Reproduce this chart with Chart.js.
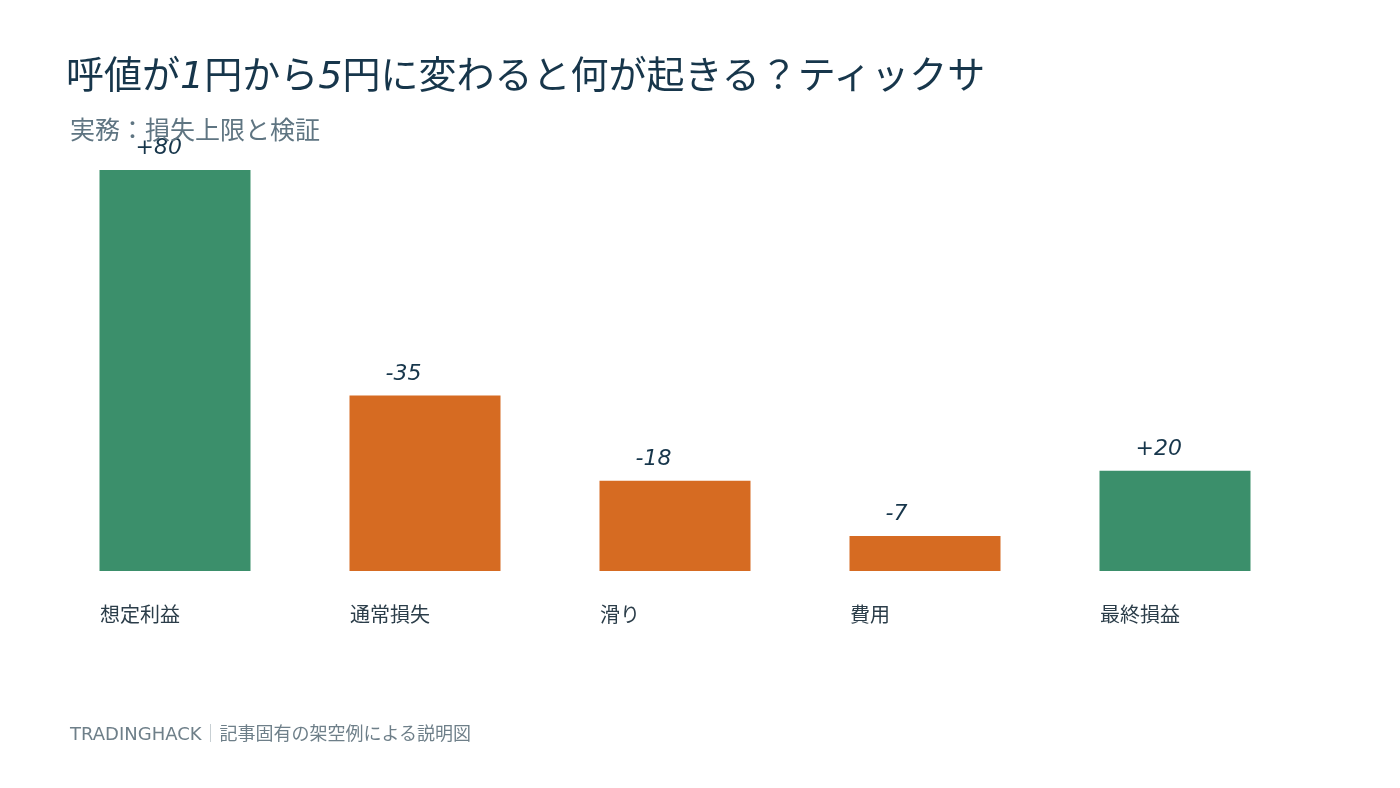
<!DOCTYPE html>
<html lang="ja">
<head>
<meta charset="utf-8">
<script src="https://cdn.jsdelivr.net/npm/chart.js@4.4.1/dist/chart.umd.min.js"></script>
<style>
  html, body { margin: 0; padding: 0; background: #fff; }
  body { width: 1400px; height: 788px; position: relative; overflow: hidden;
         font-family: "DejaVu Sans", "Noto Sans CJK JP", sans-serif; }
  #wrap { position: absolute; left: 0; top: 0; width: 1400px; height: 788px; }
  .title { position: absolute; left: 66px; top: 44px; font-size: 38px; color: #17364b; white-space: nowrap; }
  .title i { font-style: italic; }
  .sub { position: absolute; left: 70px; top: 110px; font-size: 25px; color: #5f7582; white-space: nowrap; }
  .foot { position: absolute; left: 70px; top: 719px; font-size: 18px; color: #6e7f89; white-space: nowrap; }
  .foot span { color: #b9c2c8; }
</style>
</head>
<body>
<div id="wrap"><canvas id="chart" width="1400" height="788"></canvas></div>
<div class="title">呼値が<i>1</i>円から<i>5</i>円に変わると何が起きる？ティックサ</div>
<div class="sub">実務：損失上限と検証</div>
<div class="foot">TRADINGHACK<span>｜</span>記事固有の架空例による説明図</div>
<script>
const categories = ["想定利益", "通常損失", "滑り", "費用", "最終損益"];
const values = [80, -35, -18, -7, 20];
const valueLabels = ["+80", "-35", "-18", "-7", "+20"];

const green = "#3b8f6b";
const orange = "#d66b22";

const valueLabelPlugin = {
  id: "valueLabels",
  afterDatasetsDraw(chart) {
    const ctx = chart.ctx;
    const meta = chart.getDatasetMeta(0);
    ctx.save();
    ctx.font = "italic 22px 'DejaVu Sans', 'Noto Sans CJK JP', sans-serif";
    ctx.fillStyle = "#17364b";
    ctx.textAlign = "left";
    ctx.textBaseline = "alphabetic";
    meta.data.forEach((bar, i) => {
      const left = bar.x - bar.width / 2;
      ctx.fillText(valueLabels[i], left + 36, bar.y - 16);
    });
    ctx.restore();
  }
};

new Chart(document.getElementById("chart"), {
  type: "bar",
  data: {
    labels: categories,
    datasets: [{
      data: values.map(v => Math.abs(v)),
      backgroundColor: values.map(v => v >= 0 ? green : orange),
      borderWidth: 0,
      barPercentage: 0.604,
      categoryPercentage: 1.0
    }]
  },
  options: {
    responsive: false,
    animation: false,
    layout: { padding: { left: 50, right: 100, top: 170, bottom: 0 } },
    plugins: { legend: { display: false }, tooltip: { enabled: false } },
    scales: {
      x: {
        grid: { display: false, drawTicks: false },
        border: { display: false },
        ticks: {
          align: "start",
          labelOffset: -75,
          padding: 34,
          color: "#2b3d49",
          font: { size: 20, family: "'DejaVu Sans', 'Noto Sans CJK JP', sans-serif" }
        },
        afterFit(scale) { scale.height = 217; }
      },
      y: {
        display: false,
        min: 0,
        max: 80
      }
    }
  },
  plugins: [valueLabelPlugin]
});
</script>
</body>
</html>
